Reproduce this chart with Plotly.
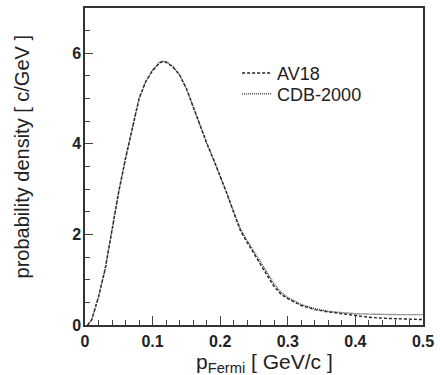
import plotly.graph_objects as go

p_fermi = [0.004, 0.01, 0.02, 0.03, 0.04, 0.05, 0.06, 0.07, 0.08, 0.09, 0.10,
           0.11, 0.115, 0.12, 0.13, 0.14, 0.15, 0.16, 0.17, 0.18, 0.19, 0.20,
           0.21, 0.22, 0.23, 0.24, 0.25, 0.26, 0.27, 0.28, 0.29, 0.30, 0.32,
           0.34, 0.36, 0.38, 0.40, 0.42, 0.44, 0.46, 0.48, 0.50]

av18 = [0.0, 0.12, 0.62, 1.25, 2.10, 2.95, 3.68, 4.36, 5.00, 5.38, 5.62,
        5.78, 5.82, 5.80, 5.70, 5.52, 5.22, 4.82, 4.40, 4.02, 3.66, 3.30,
        2.90, 2.48, 2.08, 1.82, 1.57, 1.31, 1.06, 0.84, 0.68, 0.58, 0.43,
        0.34, 0.29, 0.25, 0.21, 0.17, 0.15, 0.14, 0.13, 0.12]

cdb2000 = [0.0, 0.12, 0.62, 1.25, 2.10, 2.95, 3.68, 4.36, 5.00, 5.38, 5.63,
           5.80, 5.82, 5.82, 5.71, 5.52, 5.22, 4.82, 4.40, 4.02, 3.66, 3.30,
           2.90, 2.50, 2.12, 1.86, 1.62, 1.36, 1.12, 0.90, 0.72, 0.61, 0.45,
           0.36, 0.30, 0.27, 0.25, 0.24, 0.23, 0.23, 0.23, 0.23]

x_ticks = [0, 0.1, 0.2, 0.3, 0.4, 0.5]
x_tick_text = ["0", "0.1", "0.2", "0.3", "0.4", "0.5"]
y_ticks = [0, 2, 4, 6]

x_title = "p<sub>Fermi</sub> [ GeV/c ]"
y_title = "probability density [ c/GeV ]"

fig = go.Figure()
fig.add_trace(go.Scatter(x=p_fermi, y=av18, mode="lines", name="AV18", legend="legend",
                         line=dict(color="#222222", width=1.4, dash="3px,2px")))
fig.add_trace(go.Scatter(x=p_fermi, y=cdb2000, mode="lines", name="CDB-2000", legend="legend2",
                         line=dict(color="#333333", width=1.4, dash="1px,1px")))

axis_common = dict(
    showgrid=False, zeroline=False, showline=True, linecolor="#333333",
    linewidth=1.5, mirror=True, ticks="inside", tickcolor="#444444",
    tickfont=dict(family="Liberation Sans", size=16, color="#222222", weight="bold"),
)

fig.update_xaxes(
    range=[0, 0.5], tickvals=x_ticks, ticktext=x_tick_text,
    ticklen=9, tickwidth=1, ticklabelstandoff=1,
    minor=dict(dtick=0.02, ticks="inside", ticklen=5, tickcolor="#444444"),
    **axis_common,
)
fig.update_yaxes(
    range=[0, 7], tickvals=y_ticks, ticklen=8, tickwidth=1, ticklabelstandoff=-1,
    minor=dict(dtick=0.5, ticks="inside", ticklen=5, tickcolor="#444444"),
    **axis_common,
)

title_font = dict(family="Liberation Sans", size=20, color="#222222")
fig.add_annotation(text=x_title, xref="paper", yref="paper", x=0.531, y=-0.121,
                   xanchor="center", yanchor="middle", showarrow=False,
                   font=dict(family="Liberation Sans", size=21, color="#222222"))
fig.add_annotation(text=y_title, xref="paper", yref="paper", x=-0.185, y=0.53,
                   xanchor="center", yanchor="middle", showarrow=False, textangle=-90,
                   font=title_font)

legend_font = dict(family="Liberation Sans", size=18, color="#222222")
fig.update_layout(
    width=440, height=375,
    margin=dict(l=85, r=14, t=6, b=50),
    paper_bgcolor="white", plot_bgcolor="white",
    showlegend=True,
    legend=dict(x=0.45, y=0.794, xanchor="left", yanchor="middle",
                font=legend_font, bgcolor="rgba(0,0,0,0)"),
    legend2=dict(x=0.45, y=0.728, xanchor="left", yanchor="middle",
                 font=legend_font, bgcolor="rgba(0,0,0,0)"),
)

fig.write_html("out.html")
